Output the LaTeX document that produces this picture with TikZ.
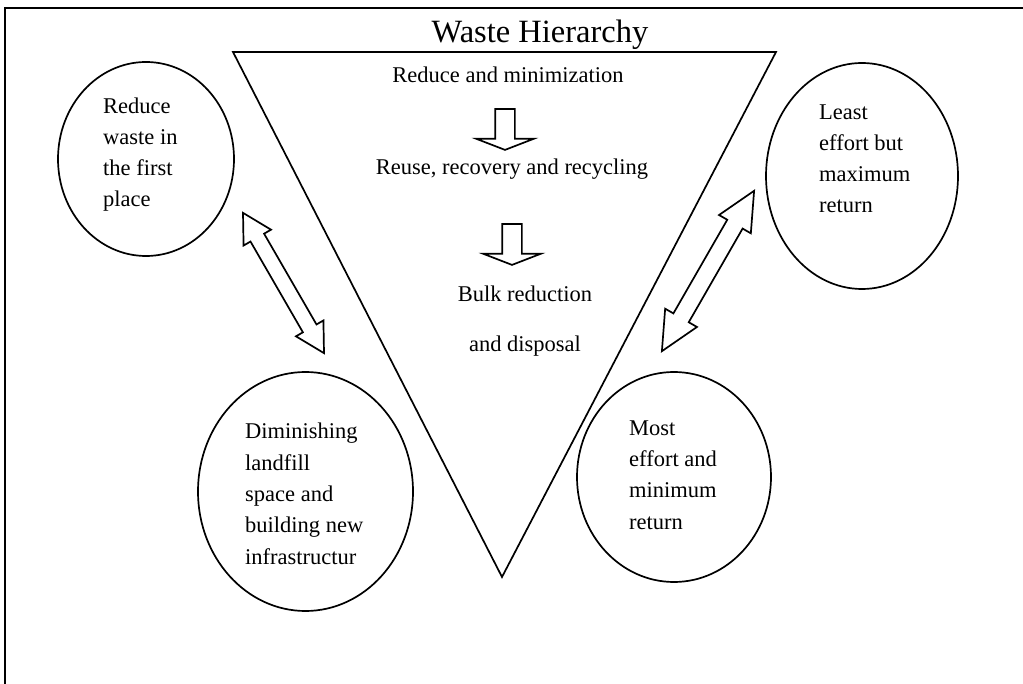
\documentclass[tikz,border=0pt]{standalone}
\usepackage{fontspec}
\setmainfont{Liberation Serif}
\usetikzlibrary{shapes.arrows,shapes.geometric}
\begin{document}
\begin{tikzpicture}[x=1pt,y=-1pt,
  line join=miter,
  outline/.style={draw=black, line width=1.7pt},
  bubble/.style={outline, ellipse, inner sep=0pt, fill=white},
  % multi-line labels are placed by the baseline of their last line
  label/.style={anchor=base west, align=left, inner sep=0pt,
    font=\fontsize{22.5}{31.3}\selectfont},
  stage/.style={anchor=base, inner sep=0pt, font=\fontsize{22.5}{27}\selectfont},
  downarrow/.style={outline, single arrow, inner xsep=0pt, inner ysep=9pt,
    minimum height=41, single arrow head extend=19, single arrow tip angle=137.7,
    rotate=-90},
  twoway/.style={outline, double arrow, inner xsep=0pt}
]
\useasboundingbox (0,0) rectangle (1023,684);

% page frame (only the top and left edges fall inside the picture)
\draw[line width=2.4pt] (1023,8) -- (5,8) -- (5,684);

% title
\node[anchor=base, inner sep=0pt, font=\fontsize{32.5}{36}\selectfont] (title) at (540,43) {Waste Hierarchy};

% inverted triangle of the hierarchy
\coordinate (tl) at (233,52);
\coordinate (tr) at (776,52);
\coordinate (tb) at (502,577);
\draw[outline] (tl) -- (tr) -- (tb) -- cycle;

% stages inside the triangle
\node[stage] (s1) at (508,83) {Reduce and minimization};
\node[downarrow] (d1) at (505,127.5) {};
\node[stage] (s2) at (512,175) {Reuse, recovery and recycling};
\node[downarrow] (d2) at (512,242.5) {};
\node[stage] (s3) at (525,302) {Bulk reduction};
\node[stage] (s4) at (525,352) {and disposal};

% bubbles
\node[bubble, minimum width=176, minimum height=194] (e1) at (146,159) {};
\node[label] (t1) at (103,207) {Reduce\\waste in\\the first\\place};

\node[bubble, minimum width=192, minimum height=226] (e2) at (862,176) {};
\node[label] (t2) at (819,213) {Least\\effort but\\maximum\\return};

\node[bubble, minimum width=215, minimum height=239] (e3) at (305.5,491.5) {};
\node[label] (t3) at (245,564) {Diminishing\\landfill\\space and\\building new\\infrastructur};

\node[bubble, minimum width=194, minimum height=210] (e4) at (674,477) {};
\node[label] (t4) at (629,529) {Most\\effort and\\minimum\\return};

% two-way arrows between the bubbles
\node[twoway, inner ysep=7pt, minimum height=162, double arrow head extend=8,
  double arrow tip angle=58, rotate=-60] (a1) at (283.5,283) {};
\node[twoway, inner ysep=8pt, minimum height=185, double arrow head extend=9.5,
  double arrow tip angle=51, rotate=60.1] (a2) at (708,271) {};
\end{tikzpicture}
\end{document}
